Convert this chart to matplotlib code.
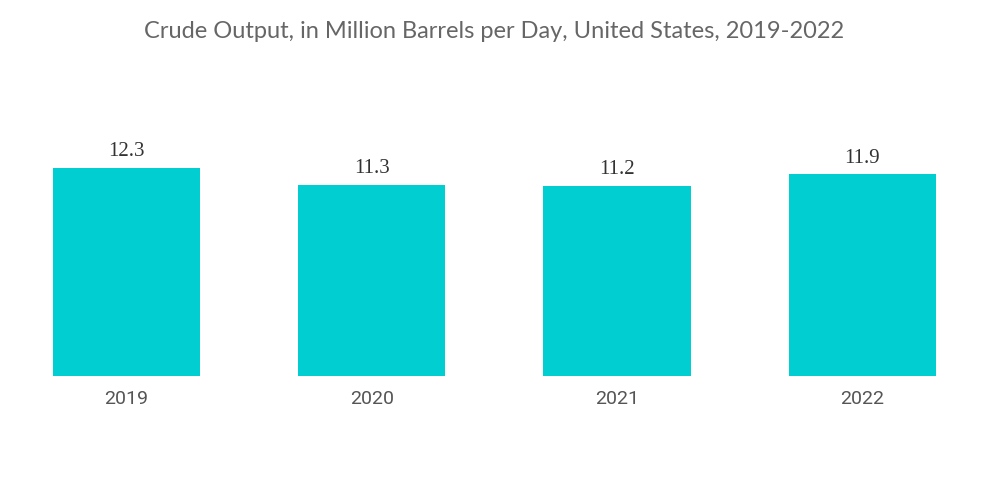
import matplotlib.pyplot as plt

years = ["2019", "2020", "2021", "2022"]
output = [12.3, 11.3, 11.2, 11.9]
labels = ["12.3", "11.3", "11.2", "11.9"]

fig = plt.figure(figsize=(10, 5.04), dpi=100)
ax = fig.add_axes([0.0039, 0.254, 0.981, 0.5476])

x = range(len(years))
bars = ax.bar(x, output, width=0.6, color="#00CED1")

# value labels above bars
for b, lab in zip(bars, labels):
    ax.annotate(lab, (b.get_x() + b.get_width() / 2, b.get_height()),
                xytext=(0, 5), textcoords="offset points", ha="center", va="bottom",
                fontsize=15, color="#333333", family="Liberation Serif")

ax.set_xlim(-0.5, 3.5)
ax.set_ylim(0, 16.3)
ax.set_xticks(list(x))
ax.set_xticklabels(years, fontsize=14, color="#555555", family="Roboto")
ax.tick_params(axis="x", length=0, pad=10)
ax.set_yticks([])
for s in ax.spines.values():
    s.set_visible(False)

fig.text(0.494, 0.938, "Crude Output, in Million Barrels per Day, United States, 2019-2022",
         ha="center", va="center", fontsize=17, color="#666666", family="Lato")

fig.savefig("out.png", dpi=100)
